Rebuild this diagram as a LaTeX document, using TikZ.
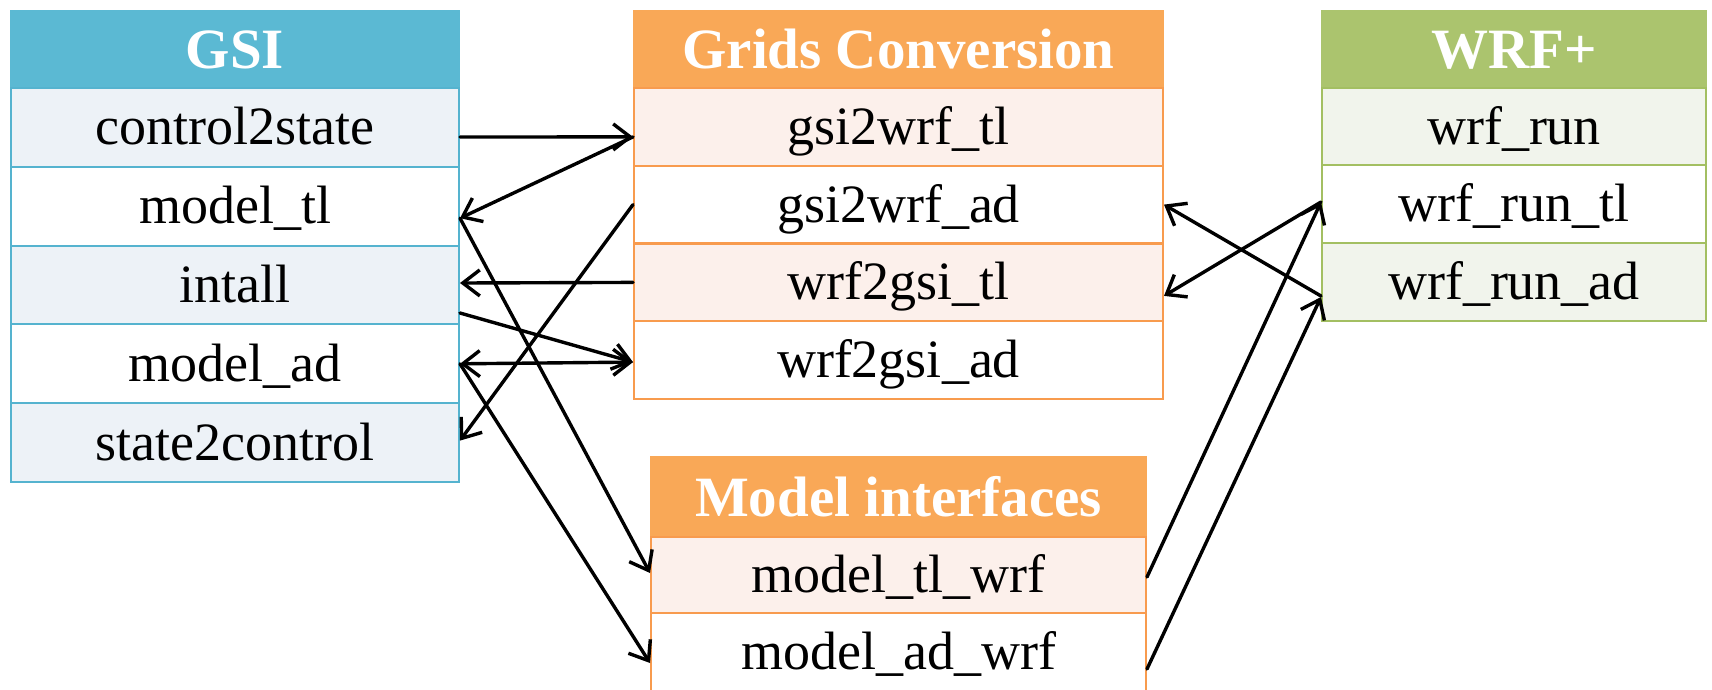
\documentclass[tikz,border=0pt]{standalone}
\usepackage{fontspec}
\setmainfont{Liberation Serif}
\usetikzlibrary{arrows.meta}

\definecolor{gsiHead}{HTML}{5BB9D3}
\definecolor{gsiLine}{HTML}{55B3CF}
\definecolor{gsiBand}{HTML}{EDF2F7}
\definecolor{orHead}{HTML}{F9A857}
\definecolor{orLine}{HTML}{F89B4E}
\definecolor{orBand}{HTML}{FCF0EB}
\definecolor{grHead}{HTML}{ABC46E}
\definecolor{grLine}{HTML}{A3BF62}
\definecolor{grBand}{HTML}{F1F4EC}

\tikzset{
  cell/.style={rectangle, draw=#1, line width=2pt, inner sep=0pt,
    text=black, font=\fontsize{54}{60}\selectfont,
    text height=36pt, text depth=1pt},
  headcell/.style={cell=#1, fill=#1, text=white,
    font=\fontsize{57}{62}\selectfont\bfseries,
    text height=39pt, text depth=1pt},
  tip/.style={Straight Barb[length=17pt,width=26pt]},
  conn/.style={draw=black, line width=3.4pt, line cap=round, -{Straight Barb[length=17pt,width=26pt]}},
  bothconn/.style={conn, {Straight Barb[length=17pt,width=26pt]}-{Straight Barb[length=17pt,width=26pt]}}
}

\begin{document}
\begin{tikzpicture}[x=1pt, y=-1pt]
  \useasboundingbox (0,0) rectangle (1712,689);
  \clip (0,0) rectangle (1712,689);

  % GSI table
  \begin{scope}[every node/.append style={minimum width=448pt}]
    \node[headcell=gsiHead, minimum height=77pt] (hg) at (235,49.5) {GSI};
    \node[cell=gsiLine, fill=gsiBand, minimum height=78.8pt] (g1) at (235,127.4) {control2state};
    \node[cell=gsiLine, fill=white,   minimum height=78.8pt] (g2) at (235,206.2) {model\_tl};
    \node[cell=gsiLine, fill=gsiBand, minimum height=78.8pt] (g3) at (235,285.0) {intall};
    \node[cell=gsiLine, fill=white,   minimum height=78.8pt] (g4) at (235,363.8) {model\_ad};
    \node[cell=gsiLine, fill=gsiBand, minimum height=78.8pt] (g5) at (235,442.6) {state2control};
  \end{scope}

  % Grids conversion table
  \begin{scope}[every node/.append style={minimum width=529pt}]
    \node[headcell=orHead, minimum height=77pt] (hc) at (898.5,49.5) {Grids Conversion};
    \node[cell=orLine, fill=orBand, minimum height=77.75pt] (c1) at (898.5,126.9) {gsi2wrf\_tl};
    \node[cell=orLine, fill=white,  minimum height=77.75pt] (c2) at (898.5,204.6) {gsi2wrf\_ad};
    \node[cell=orLine, fill=orBand, minimum height=77.75pt] (c3) at (898.5,282.4) {wrf2gsi\_tl};
    \node[cell=orLine, fill=white,  minimum height=77.75pt] (c4) at (898.5,360.1) {wrf2gsi\_ad};
  \end{scope}

  % WRF+ table
  \begin{scope}[every node/.append style={minimum width=384pt}]
    \node[headcell=grHead, minimum height=77pt] (hw) at (1514,49.5) {WRF+};
    \node[cell=grLine, fill=grBand, minimum height=77.7pt] (w1) at (1514,126.5) {wrf\_run};
    \node[cell=grLine, fill=white,  minimum height=77.7pt] (w2) at (1514,204.0) {wrf\_run\_tl};
    \node[cell=grLine, fill=grBand, minimum height=77.7pt] (w3) at (1514,282.0) {wrf\_run\_ad};
  \end{scope}

  % Model interfaces table
  \begin{scope}[every node/.append style={minimum width=495pt}]
    \node[headcell=orHead, minimum height=80pt] (hm) at (898.5,497) {Model interfaces};
    \node[cell=orLine, fill=orBand, minimum height=76pt] (m1) at (898.5,575) {model\_tl\_wrf};
    \node[cell=orLine, fill=white,  minimum height=78pt] (m2) at (898.5,652) {model\_ad\_wrf};
  \end{scope}

  % GSI <-> grids conversion / model interfaces
  \draw[conn] ([yshift=-9.6pt]g1.east) -- ([yshift=-10pt]c1.west);
  \draw[conn] ([yshift=-10pt]c1.west) -- ([yshift=-12pt]g2.east);
  \draw[conn] ([yshift=-12pt]g2.east) -- ([yshift=2pt]m1.west);
  \draw[conn] (c2.west) -- ([yshift=2pt]g5.east);
  \draw[conn] (c3.west) -- ([yshift=2pt]g3.east);
  \draw[conn] ([yshift=-28pt]g3.east) -- ([yshift=-2pt]c4.west);
  \draw[bothconn] (g4.east) -- ([yshift=-2pt]c4.west);
  \draw[conn] (g4.east) -- ([yshift=-11pt]m2.west);

  % WRF+ <-> grids conversion / model interfaces
  \draw[conn] ([yshift=-14pt]w3.west) -- (c2.east);
  \draw[conn] ([yshift=2pt]w2.west) -- ([yshift=-13.5pt]c3.east);
  \draw[conn] ([yshift=-2pt]m1.east) -- ([yshift=2pt]w2.west);
  \draw[conn] ([yshift=-17pt]m2.east) -- ([yshift=-15pt]w3.west);
\end{tikzpicture}
\end{document}
